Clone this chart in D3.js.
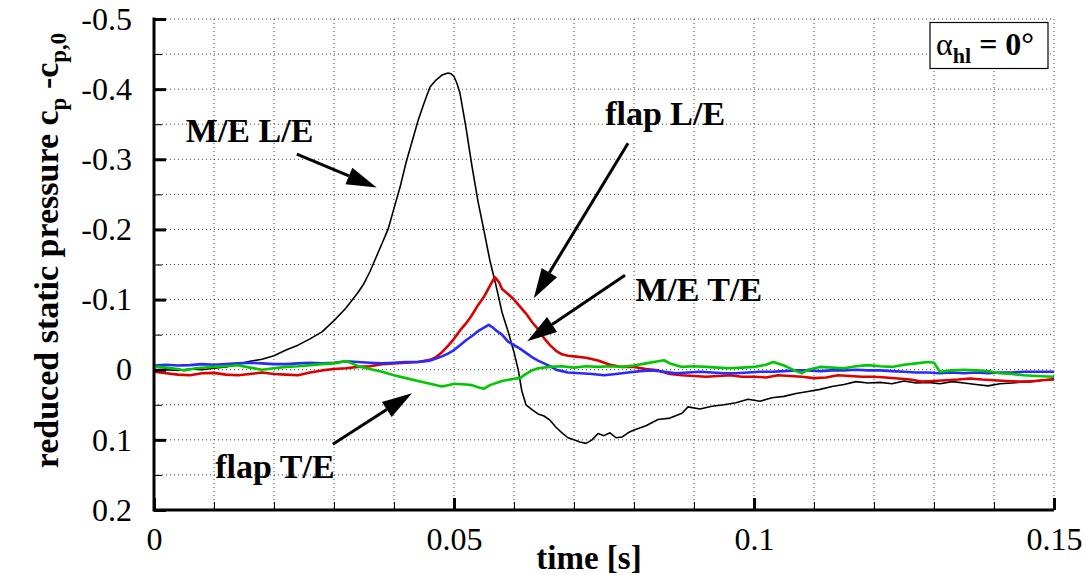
<!DOCTYPE html>
<html>
<head>
<meta charset="utf-8">
<script src="https://cdn.jsdelivr.net/npm/d3@7"></script>
<style>
  body { margin: 0; background: #fff; }
  svg text { font-family: "Liberation Serif", Tinos, "Times New Roman", Times, "DejaVu Serif", serif; fill: #000; }
</style>
</head>
<body>
<svg class="chart"></svg>
<script>
var xTicks = [0, 0.05, 0.1, 0.15],
    xTickLabels = ["0", "0.05", "0.1", "0.15"];
var yTicks = [-0.5, -0.4, -0.3, -0.2, -0.1, 0, 0.1, 0.2],
    yTickLabels = ["-0.5", "-0.4", "-0.3", "-0.2", "-0.1", "0", "0.1", "0.2"];

// [time s, cp - cp0]
var meLE = [[0,0.001],[0.002,0.0],[0.004,0.001],[0.006,-0.001],[0.008,0.0],[0.01,-0.002],[0.012,-0.004],[0.014,-0.008],
  [0.016,-0.012],[0.018,-0.015],[0.02,-0.02],[0.022,-0.028],[0.024,-0.035],[0.026,-0.044],[0.028,-0.054],[0.03,-0.07],
  [0.032,-0.088],[0.034,-0.11],[0.035,-0.123],[0.036,-0.14],[0.037,-0.16],[0.038,-0.18],[0.039,-0.2],[0.04,-0.23],
  [0.041,-0.26],[0.042,-0.295],[0.043,-0.325],[0.044,-0.355],[0.045,-0.38],[0.046,-0.403],[0.047,-0.413],[0.048,-0.42],
  [0.049,-0.423],[0.0495,-0.422],[0.05,-0.418],[0.0505,-0.408],[0.051,-0.394],[0.052,-0.345],[0.053,-0.29],[0.054,-0.24],
  [0.055,-0.198],[0.056,-0.155],[0.057,-0.12],[0.058,-0.082],[0.059,-0.055],[0.06,-0.025],[0.0607,0.0],[0.0613,0.03],
  [0.062,0.05],[0.063,0.057],[0.064,0.063],[0.065,0.066],[0.066,0.072],[0.067,0.082],[0.068,0.09],[0.069,0.097],
  [0.07,0.1],[0.071,0.103],[0.072,0.105],[0.073,0.1],[0.074,0.091],[0.075,0.094],[0.076,0.09],[0.077,0.097],
  [0.078,0.096],[0.079,0.09],[0.08,0.086],[0.082,0.08],[0.084,0.071],[0.086,0.069],[0.088,0.062],[0.089,0.053],
  [0.091,0.056],[0.093,0.052],[0.095,0.05],[0.097,0.047],[0.099,0.042],[0.101,0.045],[0.103,0.04],[0.105,0.038],
  [0.107,0.034],[0.109,0.031],[0.111,0.028],[0.113,0.024],[0.115,0.021],[0.117,0.017],[0.119,0.019],[0.121,0.018],
  [0.123,0.02],[0.125,0.016],[0.127,0.019],[0.129,0.018],[0.131,0.02],[0.133,0.017],[0.135,0.019],[0.137,0.021],
  [0.139,0.023],[0.141,0.02],[0.143,0.019],[0.145,0.017],[0.147,0.016],[0.15,0.013]];

var flapLE = [[0,0.003],[0.002,0.005],[0.004,0.007],[0.006,0.008],[0.008,0.005],[0.01,0.0045],[0.012,0.007],[0.014,0.008],
  [0.016,0.006],[0.018,0.004],[0.02,0.006],[0.022,0.007],[0.024,0.008],[0.026,0.004],[0.028,0.001],[0.03,-0.001],
  [0.032,-0.002],[0.034,-0.004],[0.036,-0.005],[0.038,-0.008],[0.04,-0.009],[0.042,-0.01],[0.044,-0.011],[0.046,-0.014],
  [0.047,-0.018],[0.048,-0.025],[0.049,-0.034],[0.05,-0.044],[0.051,-0.056],[0.052,-0.066],[0.053,-0.078],[0.054,-0.092],
  [0.055,-0.104],[0.056,-0.12],[0.0568,-0.132],[0.0575,-0.125],[0.058,-0.115],[0.059,-0.108],[0.06,-0.1],[0.061,-0.09],
  [0.062,-0.08],[0.063,-0.068],[0.064,-0.058],[0.065,-0.045],[0.066,-0.035],[0.067,-0.027],[0.068,-0.022],[0.069,-0.02],
  [0.07,-0.019],[0.072,-0.017],[0.074,-0.013],[0.076,-0.007],[0.078,-0.004],[0.08,-0.004],[0.082,-0.001],[0.084,0.001],
  [0.086,0.006],[0.088,0.008],[0.09,0.009],[0.092,0.01],[0.094,0.009],[0.096,0.008],[0.098,0.01],[0.1,0.01],
  [0.102,0.011],[0.104,0.008],[0.106,0.009],[0.108,0.01],[0.11,0.012],[0.112,0.011],[0.114,0.008],[0.116,0.009],
  [0.118,0.01],[0.12,0.01],[0.122,0.011],[0.124,0.0125],[0.126,0.014],[0.128,0.017],[0.13,0.016],[0.132,0.015],
  [0.134,0.014],[0.136,0.0125],[0.138,0.014],[0.14,0.015],[0.142,0.016],[0.144,0.017],[0.146,0.017],[0.148,0.015],[0.15,0.014]];

var meTE = [[0,-0.006],[0.002,-0.007],[0.004,-0.006],[0.006,-0.0065],[0.008,-0.008],[0.01,-0.007],[0.012,-0.008],[0.014,-0.009],
  [0.016,-0.01],[0.018,-0.009],[0.02,-0.008],[0.022,-0.008],[0.024,-0.009],[0.026,-0.01],[0.028,-0.009],[0.03,-0.01],
  [0.032,-0.012],[0.034,-0.011],[0.036,-0.01],[0.038,-0.009],[0.04,-0.01],[0.042,-0.011],[0.044,-0.011],[0.046,-0.013],
  [0.047,-0.016],[0.048,-0.019],[0.049,-0.023],[0.05,-0.028],[0.051,-0.035],[0.052,-0.042],[0.053,-0.048],[0.054,-0.055],
  [0.055,-0.06],[0.0558,-0.064],[0.0565,-0.06],[0.057,-0.056],[0.058,-0.05],[0.059,-0.04],[0.06,-0.035],[0.061,-0.03],
  [0.062,-0.024],[0.063,-0.018],[0.064,-0.013],[0.065,-0.009],[0.066,-0.005],[0.067,0.0],[0.068,0.002],[0.069,0.004],
  [0.071,0.005],[0.073,0.006],[0.075,0.008],[0.077,0.006],[0.079,0.004],[0.081,0.002],[0.083,0.001],[0.085,0.003],
  [0.087,0.005],[0.089,0.004],[0.091,0.003],[0.093,0.004],[0.095,0.005],[0.097,0.005],[0.099,0.004],[0.101,0.003],
  [0.103,0.003],[0.105,0.002],[0.107,0.001],[0.109,0.001],[0.111,0.002],[0.113,0.001],[0.115,0.001],[0.117,0.0],
  [0.119,0.001],[0.121,0.001],[0.123,0.002],[0.125,0.003],[0.127,0.004],[0.129,0.004],[0.131,0.005],[0.133,0.004],
  [0.135,0.005],[0.137,0.004],[0.139,0.005],[0.141,0.004],[0.143,0.004],[0.145,0.003],[0.147,0.003],[0.15,0.003]];

var flapTE = [[0,-0.005],[0.002,-0.003],[0.004,-0.001],[0.005,0.001],[0.007,-0.002],[0.01,-0.004],[0.012,-0.005],[0.014,-0.0065],
  [0.016,-0.003],[0.018,0.0],[0.02,-0.002],[0.022,-0.004],[0.024,-0.005],[0.026,-0.0065],[0.028,-0.008],[0.03,-0.009],
  [0.032,-0.0125],[0.033,-0.009],[0.034,-0.005],[0.036,-0.001],[0.038,0.003],[0.04,0.008],[0.042,0.012],[0.044,0.016],
  [0.046,0.02],[0.048,0.024],[0.049,0.022],[0.05,0.02],[0.052,0.021],[0.053,0.022],[0.054,0.025],[0.055,0.027],
  [0.056,0.022],[0.058,0.016],[0.06,0.013],[0.061,0.012],[0.062,0.006],[0.063,0.001],[0.064,-0.002],[0.066,-0.004],
  [0.068,-0.005],[0.07,-0.003],[0.072,-0.005],[0.074,-0.004],[0.076,-0.005],[0.078,-0.004],[0.08,-0.006],[0.082,-0.009],
  [0.084,-0.012],[0.085,-0.0135],[0.086,-0.009],[0.088,-0.004],[0.09,-0.005],[0.092,-0.004],[0.094,-0.003],[0.096,-0.002],
  [0.098,-0.003],[0.1,-0.004],[0.102,-0.007],[0.1032,-0.011],[0.105,-0.006],[0.107,0.002],[0.108,0.005],[0.109,0.0],
  [0.111,-0.004],[0.113,-0.003],[0.115,-0.002],[0.117,-0.005],[0.119,-0.0065],[0.121,-0.005],[0.123,-0.004],[0.125,-0.007],
  [0.127,-0.009],[0.129,-0.011],[0.13,-0.01],[0.131,0.003],[0.133,0.001],[0.135,0.0],[0.137,0.001],[0.139,0.002],
  [0.141,0.005],[0.143,0.006],[0.145,0.008],[0.147,0.009],[0.15,0.01]];

// annotation anchors in data units: label start, arrow tail, arrow tip
var notes = [
  {name: "M/E L/E",  lt: 0.0053, lv: -0.3244, t0: 0.0238, v0: -0.3072, t1: 0.0371, v1: -0.2598},
  {name: "flap L/E", lt: 0.0752, lv: -0.3485, t0: 0.0790, v0: -0.3229, t1: 0.0633, v1: -0.1019},
  {name: "M/E T/E",  lt: 0.0802, lv: -0.0977, t0: 0.0785, v0: -0.1347, t1: 0.0622, v1: -0.0406},
  {name: "flap T/E", lt: 0.0102, lv: 0.1547,  t0: 0.0298, v0: 0.1062,  t1: 0.0430, v1: 0.0335}
];

var serif = '"Liberation Serif", Tinos, "Times New Roman", Times, "DejaVu Serif", serif';

var width = 1086, height = 575;
var margin = {left: 154, right: 32, top: 19, bottom: 65};

var x = d3.scaleLinear().domain([0, 0.15]).range([margin.left, width - margin.right]);
var y = d3.scaleLinear().domain([-0.5, 0.2]).range([margin.top, height - margin.bottom]);

var chart = d3.select(".chart")
    .attr("width", width)
    .attr("height", height)
    .attr("font-family", serif);

// dotted grid
var gx = d3.range(1, 16).map(function(i) { return i / 100; });
var gy = d3.range(0, 14).map(function(i) { return -0.5 + i * 0.05; });

chart.append("g").selectAll("line")
    .data(gx)
  .enter().append("line")
    .attr("x1", function(d) { return x(d); })
    .attr("x2", function(d) { return x(d); })
    .attr("y1", y(-0.5))
    .attr("y2", y(0.2))
    .attr("stroke", "#444")
    .attr("stroke-dasharray", "1,3");

chart.append("g").selectAll("line")
    .data(gy)
  .enter().append("line")
    .attr("x1", x(0))
    .attr("x2", x(0.15))
    .attr("y1", function(d) { return y(d); })
    .attr("y2", function(d) { return y(d); })
    .attr("stroke", "#444")
    .attr("stroke-dasharray", "1,3");

// series
var line = d3.line()
    .x(function(d) { return x(d[0]); })
    .y(function(d) { return y(d[1]); });

var series = [
  {data: meLE, color: "#000", w: 1.6},
  {data: flapLE, color: "#dd0000", w: 2.6},
  {data: meTE, color: "#2a2aff", w: 2.6},
  {data: flapTE, color: "#00c800", w: 2.6}
];

chart.append("g").selectAll("path")
    .data(series)
  .enter().append("path")
    .attr("d", function(d) { return line(d.data); })
    .attr("fill", "none")
    .attr("stroke", function(d) { return d.color; })
    .attr("stroke-width", function(d) { return d.w; })
    .attr("stroke-linejoin", "round");

// axes
var xMinor = gx.filter(function(d) { return Math.round(d * 100) % 5 != 0; });
var yMinor = gy.filter(function(d) { return Math.round(d * 100) % 10 != 0; });

chart.append("g")
    .attr("transform", "translate(0," + y(0.2) + ")")
    .call(d3.axisBottom(x).tickValues(xMinor).tickSize(-8).tickFormat(""))
    .call(function(g) { g.select(".domain").remove(); g.selectAll("line").attr("stroke-width", 1); });

chart.append("g")
    .attr("transform", "translate(" + x(0) + ",0)")
    .call(d3.axisLeft(y).tickValues(yMinor).tickSize(-8).tickFormat(""))
    .call(function(g) { g.select(".domain").remove(); g.selectAll("line").attr("stroke-width", 1); });

var xAxis = chart.append("g")
    .attr("transform", "translate(0," + y(0.2) + ")")
    .call(d3.axisBottom(x).tickValues(xTicks).tickSize(-12).tickPadding(22)
      .tickFormat(function(d, i) { return xTickLabels[i]; }));

var yAxis = chart.append("g")
    .attr("transform", "translate(" + x(0) + ",0)")
    .call(d3.axisLeft(y).tickValues(yTicks).tickSize(-12).tickPadding(22)
      .tickFormat(function(d, i) { return yTickLabels[i]; }));

[xAxis, yAxis].forEach(function(g) {
  g.attr("font-family", serif).attr("font-size", 32);
  g.select(".domain").remove();
  g.selectAll("line").attr("stroke-width", 3);
  g.selectAll("text").attr("fill", "#000");
});
xAxis.selectAll("text").attr("dy", "0.55em");

chart.append("line")
    .attr("x1", x(0)).attr("x2", x(0.15))
    .attr("y1", y(0.2)).attr("y2", y(0.2))
    .attr("stroke", "#000").attr("stroke-width", 3);
chart.append("line")
    .attr("x1", x(0)).attr("x2", x(0))
    .attr("y1", y(-0.5) - 1.5).attr("y2", y(0.2) + 1.5)
    .attr("stroke", "#000").attr("stroke-width", 3);

// axis titles
chart.append("text")
    .attr("x", x(0.0725))
    .attr("y", 569)
    .attr("text-anchor", "middle")
    .attr("font-weight", "bold")
    .attr("font-size", 33)
    .text("time [s]");

var yl = chart.append("text")
    .attr("transform", "translate(58," + y(-0.17) + ") rotate(-90)")
    .attr("text-anchor", "middle")
    .attr("font-weight", "bold")
    .attr("font-size", 34);
yl.append("tspan").text("reduced static pressure c");
yl.append("tspan").attr("dy", 8).attr("font-size", 23).text("p");
yl.append("tspan").attr("dy", -8).text(" -c");
yl.append("tspan").attr("dy", 8).attr("font-size", 23).text("p,0");

// annotations
var note = chart.append("g").selectAll("g")
    .data(notes)
  .enter().append("g");

note.append("text")
    .attr("x", function(d) { return x(d.lt); })
    .attr("y", function(d) { return y(d.lv); })
    .attr("font-weight", "bold")
    .attr("font-size", 34)
    .text(function(d) { return d.name; });

var headLen = 30, headHalf = 9;
note.each(function(d) {
  var ax = x(d.t0), ay = y(d.v0), bx = x(d.t1), by = y(d.v1);
  var dx = bx - ax, dy = by - ay, len = Math.sqrt(dx * dx + dy * dy);
  var ux = dx / len, uy = dy / len;
  var hx = bx - ux * headLen, hy = by - uy * headLen;
  d3.select(this).append("line")
      .attr("x1", ax).attr("y1", ay)
      .attr("x2", hx).attr("y2", hy)
      .attr("stroke", "#000").attr("stroke-width", 3);
  d3.select(this).append("polygon")
      .attr("points", [[bx, by], [hx - uy * headHalf, hy + ux * headHalf], [hx + uy * headHalf, hy - ux * headHalf]].join(" "))
      .attr("fill", "#000");
});

// angle box
var box = chart.append("g");
box.append("rect")
    .attr("x", 930).attr("y", 22.5)
    .attr("width", 118).attr("height", 46)
    .attr("fill", "#fff").attr("stroke", "#000").attr("stroke-width", 1.2);
var bt = box.append("text")
    .attr("x", 936).attr("y", 55)
    .attr("font-size", 32);
bt.append("tspan").attr("font-size", 32).text("α");
bt.append("tspan").attr("dy", 8).attr("font-size", 22).attr("font-weight", "bold").text("hl");
bt.append("tspan").attr("dy", -8).attr("font-weight", "bold").text(" = 0°");
</script>
</body>
</html>
